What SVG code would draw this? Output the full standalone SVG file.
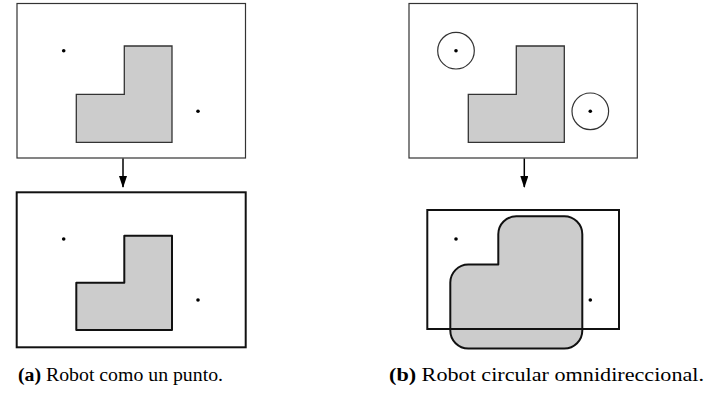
<svg xmlns="http://www.w3.org/2000/svg" width="705" height="404" viewBox="0 0 705 404">
  <defs>
    <style>
      .frame { fill: none; stroke: #333; stroke-width: 1.2; }
      .frame-thick { fill: none; stroke: #111; stroke-width: 2; }
      .obst { fill: #cccccc; stroke: #333; stroke-width: 1.3; stroke-linejoin: miter; }
      .obst-thick { fill: #cccccc; stroke: #111; stroke-width: 2; stroke-linejoin: round; }
      .pt { fill: #000; }
      .robot { fill: none; stroke: #333; stroke-width: 1.2; }
      .edge { stroke: #000; stroke-width: 1.5; fill: none; }
      .cap { font-family: "Liberation Serif", "Times New Roman", serif; font-size: 18px; fill: #000; }
      .cap .lbl { font-weight: bold; }
    </style>
    <marker id="head" markerWidth="12" markerHeight="8" refX="11" refY="4" orient="auto" markerUnits="userSpaceOnUse" viewBox="0 0 12 8">
      <path d="M0,0 L12,4 L0,8 Z" fill="#000"/>
    </marker>
  </defs>
  <rect width="705" height="404" fill="#fff"/>

  <!-- (a) point robot: workspace -->
  <g id="a-workspace">
    <rect class="frame" x="17" y="3.5" width="228.5" height="154.5"/>
    <polygon class="obst" points="124.3,46 172,46 172,142.3 76.3,142.3 76.3,94.3 124.3,94.3"/>
    <circle class="pt" cx="63.7" cy="50.7" r="1.8"/>
    <circle class="pt" cx="198" cy="111.3" r="1.8"/>
  </g>

  <!-- (a) point robot: configuration space -->
  <g id="a-cspace">
    <rect class="frame-thick" x="16.7" y="192.3" width="229" height="155"/>
    <polygon class="obst-thick" points="124.3,235.7 172,235.7 172,330 76.3,330 76.3,282.7 124.3,282.7"/>
    <circle class="pt" cx="63.7" cy="239" r="1.8"/>
    <circle class="pt" cx="198" cy="300" r="1.8"/>
  </g>

  <!-- (b) circular robot: workspace -->
  <g id="b-workspace">
    <rect class="frame" x="409" y="3.5" width="228.3" height="154.5"/>
    <polygon class="obst" points="516.3,46 564.3,46 564.3,142.3 468.3,142.3 468.3,94.3 516.3,94.3"/>
    <circle class="robot" cx="456" cy="50.7" r="18.3"/>
    <circle class="pt" cx="456" cy="50.7" r="1.8"/>
    <circle class="robot" cx="590.3" cy="111.3" r="18.3"/>
    <circle class="pt" cx="590.3" cy="111.3" r="1.8"/>
  </g>

  <!-- (b) circular robot: configuration space with grown obstacle -->
  <g id="b-cspace">
    <path class="obst-thick" d="M498.3,264.6 L498.3,234.3 A18,18 0 0 1 516.3,216.3 L564.3,216.3 A18,18 0 0 1 582.3,234.3 L582.3,330.6 A18,18 0 0 1 564.3,348.6 L468.3,348.6 A18,18 0 0 1 450.3,330.6 L450.3,282.6 A18,18 0 0 1 468.3,264.6 Z"/>
    <rect class="frame-thick" x="427.3" y="210" width="191.7" height="119"/>
    <circle class="pt" cx="456" cy="239" r="1.8"/>
    <circle class="pt" cx="590.3" cy="300" r="1.8"/>
  </g>

  <!-- transformation arrows -->
  <g id="connectors">
    <line class="edge" x1="123" y1="158.5" x2="123" y2="187" marker-end="url(#head)"/>
    <line class="edge" x1="524.3" y1="158.5" x2="524.3" y2="187" marker-end="url(#head)"/>
  </g>

  <!-- captions -->
  <g id="captions">
    <text class="cap" x="18" y="381" textLength="205" lengthAdjust="spacingAndGlyphs"><tspan class="lbl">(a)</tspan> Robot como un punto.</text>
    <text class="cap" x="389" y="381" textLength="315" lengthAdjust="spacingAndGlyphs"><tspan class="lbl">(b)</tspan> Robot circular omnidireccional.</text>
  </g>
</svg>
